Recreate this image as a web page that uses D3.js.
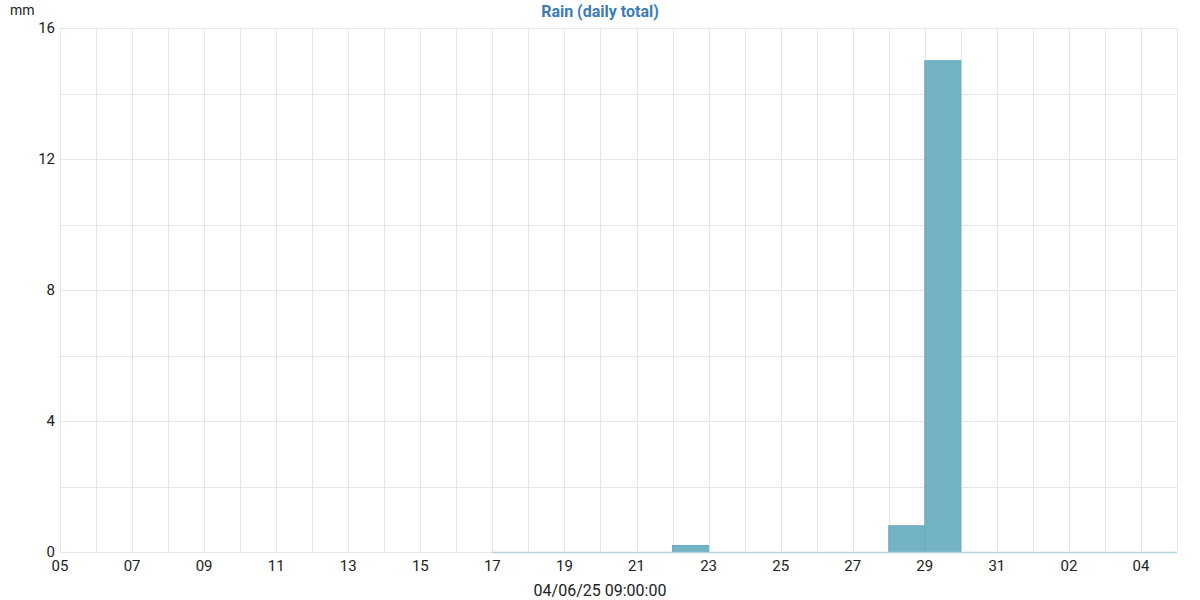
<!DOCTYPE html>
<html><head><meta charset="utf-8">
<script src="https://cdn.jsdelivr.net/npm/d3@7/dist/d3.min.js"></script>
<style>
body{margin:0;background:#fff;}
text{font-family:Roboto,"Liberation Sans",sans-serif;}
</style></head>
<body><svg id="c" width="1200" height="600"></svg>
<script>
const days = ["2025-05-17","2025-05-18","2025-05-19","2025-05-20","2025-05-21","2025-05-22","2025-05-23","2025-05-24","2025-05-25","2025-05-26","2025-05-27","2025-05-28","2025-05-29","2025-05-30","2025-05-31","2025-06-01","2025-06-02","2025-06-03","2025-06-04"];
const rain = [0,0,0,0,0,0.2,0,0,0,0,0,0.8,15,0,0,0,0,0,0];
const yTicks = [0,4,8,12,16];
const title = "Rain (daily total)";
const unit = "mm";
const xTitle = "04/06/25 09:00:00";
const domainStart = "2025-05-05", domainEnd = "2025-06-05";

const parse = d3.utcParse("%Y-%m-%d");
const svg = d3.select("#c");
const m = {l:60, r:23, t:28, b:48};
const W = 1200, H = 600;
const x = d3.scaleUtc().domain([parse(domainStart), parse(domainEnd)]).range([m.l, W-m.r]);
const y = d3.scaleLinear().domain([0,16]).range([H-m.b, m.t]);

const grid = svg.append("g");
grid.selectAll("line.v").data(d3.utcDay.range(parse(domainStart), d3.utcDay.offset(parse(domainEnd),1)))
  .join("line").attr("x1", d=>Math.round(x(d))+0.5).attr("x2", d=>Math.round(x(d))+0.5)
  .attr("y1", m.t).attr("y2", H-m.b).attr("stroke","#e6e6e6").attr("stroke-width",1);
grid.selectAll("line.h").data(d3.range(0,17,2)).join("line")
  .attr("x1", m.l).attr("x2", W-m.r).attr("y1", d=>Math.round(y(d))+0.5).attr("y2", d=>Math.round(y(d))+0.5)
  .attr("stroke","#e6e6e6").attr("stroke-width",1);

const data = days.map((d,i)=>({d:parse(d), v:rain[i]}));
svg.append("g").selectAll("rect").data(data.filter(d=>d.v>0)).join("rect")
  .attr("x", d=>x(d.d)).attr("width", d=>x(d3.utcDay.offset(d.d,1))-x(d.d))
  .attr("y", d=>y(d.v)).attr("height", d=>y(0)-y(d.v))
  .attr("fill","#74b2c5").attr("stroke","#6aa8bc").attr("stroke-width",1);
svg.append("line").attr("x1", x(data[0].d)).attr("x2", W-m.r)
  .attr("y1", y(0)+0.5).attr("y2", y(0)+0.5).attr("stroke","#b4d4e2").attr("stroke-width",1.5);

svg.append("g").selectAll("text").data(yTicks).join("text")
  .attr("x", 55).attr("y", d=>y(d)+5).attr("text-anchor","end")
  .attr("font-size",15).attr("fill","#222").text(d=>d);
const xt = d3.utcDay.range(parse(domainStart), parse(domainEnd)).filter((d,i)=>i%2===0);
svg.append("g").selectAll("text").data(xt).join("text")
  .attr("x", d=>x(d)).attr("y", 571).attr("text-anchor","middle")
  .attr("font-size",15).attr("fill","#222").text(d3.utcFormat("%d"));

svg.append("text").attr("x",10).attr("y",15).attr("font-size",14).attr("fill","#222").text(unit);
svg.append("text").attr("x",600).attr("y",17).attr("text-anchor","middle").attr("font-size",16)
  .attr("font-weight","bold").attr("fill","#3b7cb8").text(title);
svg.append("text").attr("x",600).attr("y",596).attr("text-anchor","middle").attr("font-size",16)
  .attr("fill","#222").text(xTitle);
</script></body></html>
